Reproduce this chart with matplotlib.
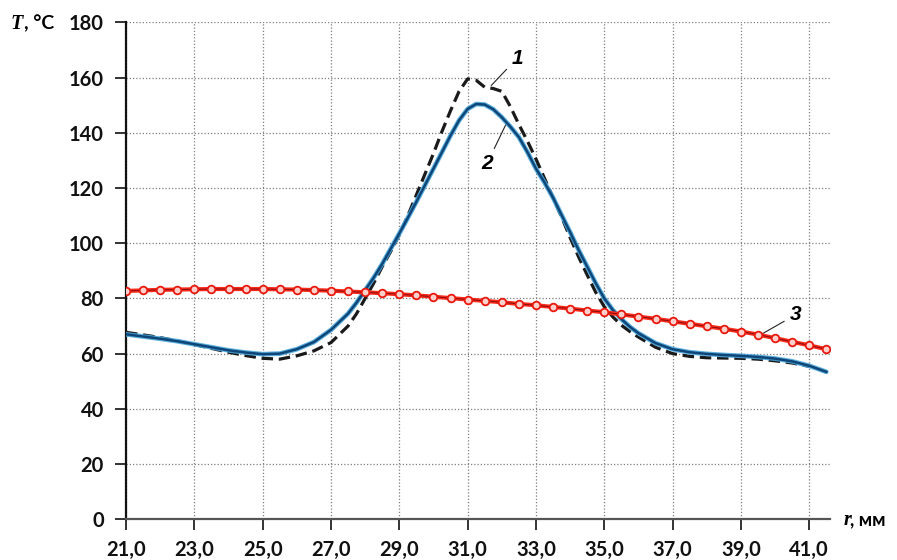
import matplotlib
matplotlib.use("Agg")
import matplotlib.pyplot as plt

plt.rcParams['font.family'] = ['Lato', 'DejaVu Sans']

# ---------- data ----------
# radius grid for curves 1 and 2 (finer near the peak)
r_a = [21.0, 21.5, 22.0, 22.5, 23.0, 23.5, 24.0, 24.5, 25.0, 25.5,
       26.0, 26.5, 27.0,
       27.5, 27.75, 28.0, 28.25, 28.5, 28.75, 29.0, 29.25, 29.5, 29.75,
       30.0, 30.25, 30.5, 30.75, 31.0, 31.25, 31.5, 31.75, 32.0, 32.25,
       32.5, 32.75, 33.0, 33.25, 33.5, 33.75, 34.0, 34.25, 34.5, 34.75,
       35.0, 35.25, 35.5, 35.75, 36.0,
       36.5, 37.0, 37.5, 38.0, 38.5, 39.0, 39.5, 40.0, 40.5, 41.0, 41.5]

# curve 1 (dashed), ends at 41.0
t1 = [67.7, 66.8, 65.8, 64.6, 63.3, 61.9, 60.5, 59.3, 58.3, 58.0,
      59.2, 61.0, 64.0,
      70.0, 74.5, 80.0, 85.5, 91.5, 97.0, 103.0, 110.0, 117.5, 125.0,
      132.5, 140.5, 148.0, 155.0, 159.5, 159.0, 156.5, 156.0, 155.0, 149.5,
      143.0, 137.0, 130.5, 123.5, 116.5, 109.5, 102.0, 95.0, 88.5, 82.2,
      77.0, 73.3, 70.3, 68.0, 66.0,
      62.3, 60.0, 59.0, 58.5, 58.4, 58.3, 58.0, 57.4, 56.6, 55.4]

# curve 2 (solid blue)
t2 = [67.0, 66.2, 65.4, 64.5, 63.4, 62.3, 61.2, 60.4, 59.8, 60.0,
      61.6, 64.2, 68.6,
      74.5, 78.5, 83.0, 87.5, 92.5, 98.0, 103.5, 109.2, 115.0, 121.0,
      127.0, 133.0, 139.0, 144.5, 148.6, 150.4, 150.2, 148.5, 145.6, 142.2,
      138.4, 133.0, 127.0, 122.0, 116.5, 110.2, 104.0, 97.5, 91.5, 85.5,
      80.0, 75.8, 72.5, 69.7, 67.4,
      63.8, 61.6, 60.5, 59.9, 59.5, 59.2, 58.8, 58.2, 57.2, 55.6, 53.4]

# curve 3 (red with markers), every 0.5 mm
r_b = [21.0, 21.5, 22.0, 22.5, 23.0, 23.5, 24.0, 24.5, 25.0, 25.5,
       26.0, 26.5, 27.0, 27.5, 28.0, 28.5, 29.0, 29.5, 30.0, 30.5,
       31.0, 31.5, 32.0, 32.5, 33.0, 33.5, 34.0, 34.5, 35.0, 35.5,
       36.0, 36.5, 37.0, 37.5, 38.0, 38.5, 39.0, 39.5, 40.0, 40.5,
       41.0, 41.5]
t3 = [82.7, 82.9, 83.1, 83.2, 83.3, 83.4, 83.4, 83.4, 83.4, 83.3,
      83.2, 83.0, 82.8, 82.5, 82.2, 81.9, 81.5, 81.1, 80.6, 80.1,
      79.6, 79.1, 78.6, 78.0, 77.5, 76.9, 76.3, 75.6, 75.0, 74.2,
      73.4, 72.6, 71.7, 70.8, 69.9, 69.0, 68.0, 66.9, 65.6, 64.3,
      63.0, 61.6]

x_ticks = [21, 23, 25, 27, 29, 31, 33, 35, 37, 39, 41]
x_tick_labels = ['21,0', '23,0', '25,0', '27,0', '29,0', '31,0',
                 '33,0', '35,0', '37,0', '39,0', '41,0']
y_ticks = [0, 20, 40, 60, 80, 100, 120, 140, 160, 180]

# ---------- figure ----------
fig = plt.figure(figsize=(8.97, 5.60), dpi=100)
ax = fig.add_axes([0.1405, 0.0727, 0.7845, 0.8875])

ax.set_xlim(21, 41.6)
ax.set_ylim(0, 180)

# grid
ax.grid(True, color='#7f7f7f', linestyle=(0, (1, 1.6)), linewidth=0.9)
ax.set_axisbelow(True)

# curves
ax.plot(r_a[:len(t1)], t1, color='#1a1a1a', linewidth=2.3,
        linestyle=(0, (3.6, 1.8)), zorder=3)
ax.plot(r_a, t2, color='#48a6dc', linewidth=3.4, zorder=4, alpha=0.9,
        solid_capstyle='round')
ax.plot(r_a, t2, color='#0f4678', linewidth=1.8, zorder=5)
ax.plot(r_b, t3, color='#ff2a1a', linewidth=3.0, zorder=6)
ax.plot(r_b, t3, color='#8a1010', linewidth=0.8, zorder=7,
        marker='o', markersize=5.5, markerfacecolor='#ffd0cc',
        markeredgecolor='#e8180c', markeredgewidth=1.3)

# curve labels
lbl = dict(fontsize=15, fontweight='bold', fontstyle='italic',
           family=['Liberation Sans', 'DejaVu Sans'], ha='center', va='center')
arr = dict(arrowstyle='-', color='#222222', lw=0.8, shrinkA=2, shrinkB=0)
ax.annotate('1', xy=(31.69, 157.1), xytext=(32.45, 167.0), arrowprops=arr, **lbl)
ax.annotate('2', xy=(32.12, 143.0), xytext=(31.57, 128.9), arrowprops=arr, **lbl)
ax.annotate('3', xy=(39.6, 67.0), xytext=(40.59, 74.0), arrowprops=arr, **lbl)

# axes styling
for s in ['top', 'right']:
    ax.spines[s].set_visible(False)
ax.spines['left'].set_color('#111111')
ax.spines['left'].set_linewidth(1.6)
ax.spines['bottom'].set_color('#555555')
ax.spines['bottom'].set_linewidth(1.6)

ax.set_xticks(x_ticks)
ax.set_xticklabels(x_tick_labels)
ax.set_yticks(y_ticks)
ax.tick_params(axis='both', direction='out', length=8, width=1.2,
               labelsize=14.5, colors='#111111')
ax.tick_params(axis='y', pad=8)
ax.tick_params(axis='x', pad=7)
for t in ax.get_xticklabels() + ax.get_yticklabels():
    t.set_fontweight('bold')

# axis titles
fig.text(0.012, 0.958, 'T', fontsize=14.5, fontweight='bold', fontstyle='italic',
         family=['Liberation Serif', 'DejaVu Serif'], va='center')
fig.text(0.027, 0.958, ', °C', fontsize=14, fontweight='bold', va='center')
fig.text(0.94, 0.071, 'r', fontsize=14.5, fontweight='bold', fontstyle='italic',
         family=['Liberation Serif', 'DejaVu Serif'], va='center')
fig.text(0.948, 0.071, ', мм', fontsize=13.5, fontweight='bold', va='center')

fig.savefig('out.png', dpi=100, facecolor='white')
